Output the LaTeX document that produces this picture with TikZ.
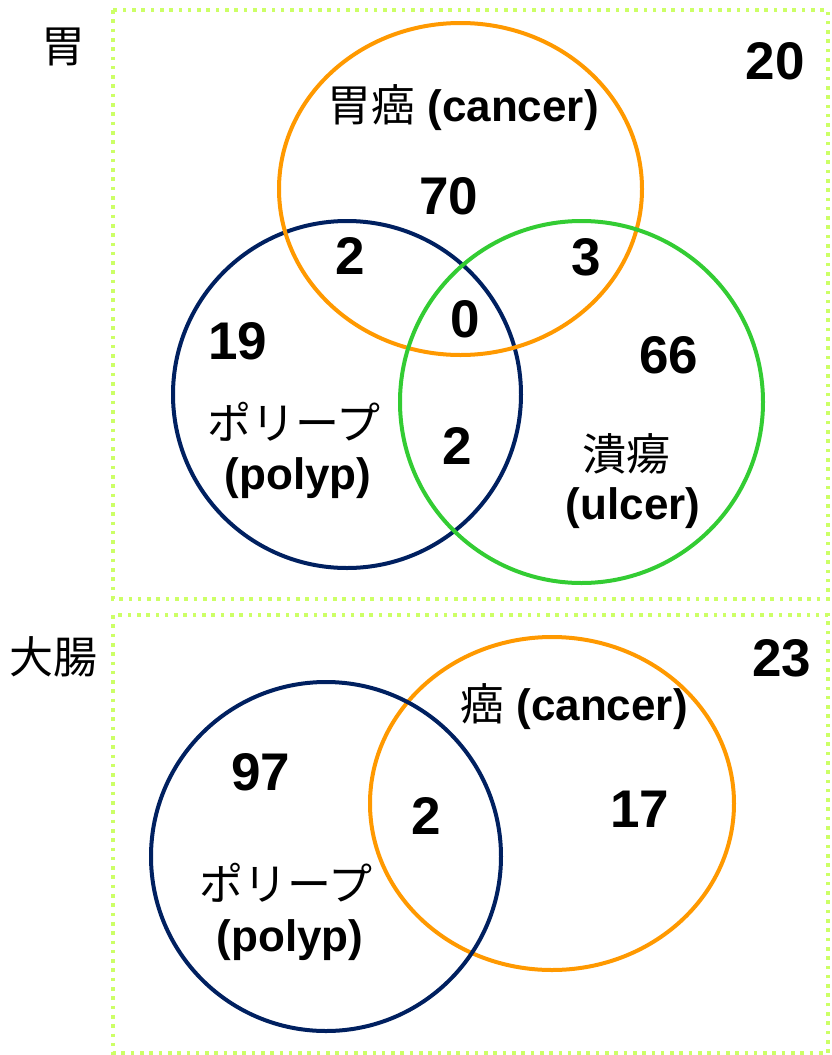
\documentclass[tikz,border=0pt]{standalone}
\usepackage{fontspec}
\setmainfont{Liberation Sans}
\newfontfamily\cjk{Noto Sans CJK JP}
\definecolor{navyc}{RGB}{0,32,96}
\definecolor{orangec}{RGB}{255,153,0}
\definecolor{greenc}{RGB}{51,204,51}
\definecolor{limec}{RGB}{204,255,102}
\begin{document}
\begin{tikzpicture}[x=0.5pt,y=-0.5pt,
  num/.style={font=\bfseries\fontsize{26.5}{28}\selectfont, inner sep=0pt},
  lab/.style={font=\bfseries\fontsize{22}{24}\selectfont, inner sep=0pt},
  jp/.style={font=\cjk\fontsize{22}{24}\selectfont, inner sep=0pt},
  frame/.style={draw=limec, line width=2pt, dash pattern=on 1.8pt off 2.85pt},
  ring/.style={line width=2pt}]
\useasboundingbox (0,0) rectangle (831,1055);
% frames
\draw[frame] (113,10) rectangle (828,599);
\draw[frame] (113,615) rectangle (828,1053);
% top Venn
\draw[ring, draw=navyc] (347,394.5) ellipse [x radius=87pt, y radius=86.75pt];
\draw[ring, draw=orangec] (460.5,189) ellipse [x radius=90.75pt, y radius=83pt];
\draw[ring, draw=greenc] (581.5,402) ellipse [x radius=90.75pt, y radius=90.5pt];
% bottom Venn
\draw[ring, draw=orangec] (552,803.5) ellipse [x radius=91pt, y radius=83.25pt];
\draw[ring, draw=navyc] (326,856.5) ellipse [x radius=87.5pt, y radius=87.25pt];
% top labels
\node[jp] (stomach) at (63,47) {胃};
\node[num] (t20) at (775,61) {20};
\node[lab] (tcancer) at (463,108) {{\cjk\mdseries 胃癌} (cancer)};
\node[num] (t70) at (449,196) {70};
\node[num] (t2a) at (350,256) {2};
\node[num] (t3) at (586,257) {3};
\node[num] (t19) at (237.5,341) {19};
\node[num] (t0) at (465,319) {0};
\node[num] (t66) at (669,355) {66};
\node[jp] (tpolypjp) at (294,422) {ポリープ};
\node[lab] (tpolyp) at (298,478) {(polyp)};
\node[num] (t2b) at (457,446) {2};
\node[jp] (tulcerjp) at (626.5,454) {潰瘍};
\node[lab] (tulcer) at (633,508) {(ulcer)};
% bottom labels
\node[jp] (colon) at (54,657) {大腸};
\node[num] (b23) at (781.5,658.5) {23};
\node[lab] (bcancer) at (574,707) {{\cjk\mdseries 癌} (cancer)};
\node[num] (b97) at (260.5,772) {97};
\node[num] (b2) at (426.5,816) {2};
\node[num] (b17) at (639.5,809) {17};
\node[jp] (bpolypjp) at (286,883) {ポリープ};
\node[lab] (bpolyp) at (290,940) {(polyp)};
\end{tikzpicture}
\end{document}
